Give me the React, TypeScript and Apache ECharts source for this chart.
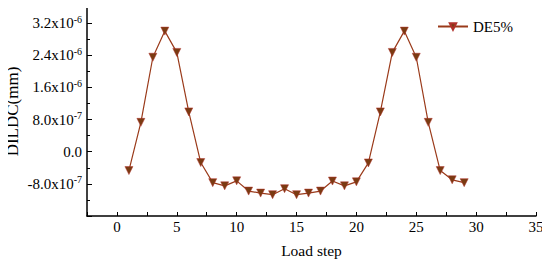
import React, { useEffect, useRef } from "react";
import * as echarts from "echarts";

const loadSteps = [1, 2, 3, 4, 5, 6, 7, 8, 9, 10, 11, 12, 13, 14, 15, 16, 17, 18, 19, 20, 21, 22, 23, 24, 25, 26, 27, 28, 29];
const dildc = [
  -4.7e-7, 7.3e-7, 2.35e-6, 3.0e-6, 2.47e-6, 9.9e-7, -2.7e-7, -7.7e-7, -8.5e-7, -7.25e-7,
  -9.8e-7, -1.03e-6, -1.07e-6, -9.2e-7, -1.07e-6, -1.03e-6, -9.8e-7, -7.3e-7, -8.5e-7, -7.5e-7,
  -2.8e-7, 9.9e-7, 2.47e-6, 3.0e-6, 2.35e-6, 7.3e-7, -4.7e-7, -7.0e-7, -7.7e-7,
];
const seriesName = "DE5%";
const xTickLabels = [0, 5, 10, 15, 20, 25, 30, 35];
const yTickLabels = [-8e-7, 0, 8e-7, 1.6e-6, 2.4e-6, 3.2e-6];

const FONT = '"Liberation Serif", "Times New Roman", serif';

function fmtY(v: number): string {
  const hit = yTickLabels.find((t) => Math.abs(t - v) < 1e-9);
  if (hit === undefined) return "";
  if (hit === 0) return "0.0";
  const exp = Math.floor(Math.log10(Math.abs(hit)) + 1e-9);
  const mant = (hit / Math.pow(10, exp)).toFixed(1);
  return `${mant}x10{sup|${exp}}`;
}

export default function App() {
  const ref = useRef<HTMLDivElement>(null);
  useEffect(() => {
    if (!ref.current) return;
    const chart = echarts.init(ref.current, undefined, { renderer: "svg" });
    chart.setOption({
      animation: false,
      backgroundColor: "#ffffff",
      textStyle: { fontFamily: FONT },
      grid: { left: 87, top: 7, width: 449, height: 209, containLabel: false, outerBoundsMode: "none" },
      legend: {
        show: true,
        left: 432,
        top: 14,
        itemWidth: 30,
        itemHeight: 8,
        textStyle: { fontFamily: FONT, fontSize: 15, color: "#000" },
        data: [seriesName],
      },
      xAxis: {
        type: "value",
        min: -2.5,
        max: 35,
        interval: 2.5,
        name: "Load step",
        nameLocation: "middle",
        nameGap: 26,
        nameMoveOverlap: false,
        nameTextStyle: { fontFamily: FONT, fontSize: 15.5, color: "#000" },
        axisLine: { show: true, onZero: false, lineStyle: { color: "#000", width: 1.5 } },
        axisTick: { show: true, inside: true, length: 4, lineStyle: { color: "#000" } },
        axisLabel: {
          margin: 3,
          fontFamily: FONT,
          fontSize: 15,
          color: "#000",
          formatter: (v: number) => (xTickLabels.some((t) => Math.abs(t - v) < 1e-6) ? String(v) : ""),
        },
        splitLine: { show: false },
      },
      yAxis: {
        type: "value",
        min: -1.6e-6,
        max: 3.6e-6,
        interval: 8e-7,
        name: "DILDC(mm)",
        nameLocation: "middle",
        nameGap: 66,
        nameMoveOverlap: false,
        nameTextStyle: { fontFamily: FONT, fontSize: 17, color: "#000" },
        axisLine: { show: true, onZero: false, lineStyle: { color: "#000", width: 1.5 } },
        axisTick: { show: true, inside: true, length: 5, lineStyle: { color: "#000" } },
        minorTick: { show: true, splitNumber: 2, length: 3, lineStyle: { color: "#000" } },
        axisLabel: {
          margin: 5,
          fontFamily: FONT,
          fontSize: 15,
          color: "#000",
          formatter: fmtY,
          rich: {
            sup: { fontFamily: FONT, fontSize: 10, color: "#000", padding: [0, 0, 8, 0] },
          },
        },
        splitLine: { show: false },
        minorSplitLine: { show: false },
      },
      series: [
        {
          name: seriesName,
          type: "line",
          data: loadSteps.map((x, i) => [x, dildc[i]]),
          symbol: "triangle",
          symbolRotate: 180,
          symbolSize: 8,
          lineStyle: { color: "#9a3a1a", width: 1.2 },
          itemStyle: { color: "#7a3b12", borderColor: "#b0302a", borderWidth: 0.5 },
        },
      ],
    });
    return () => chart.dispose();
  }, []);
  return <div ref={ref} style={{ width: 550, height: 268, margin: -8 }} />;
}
